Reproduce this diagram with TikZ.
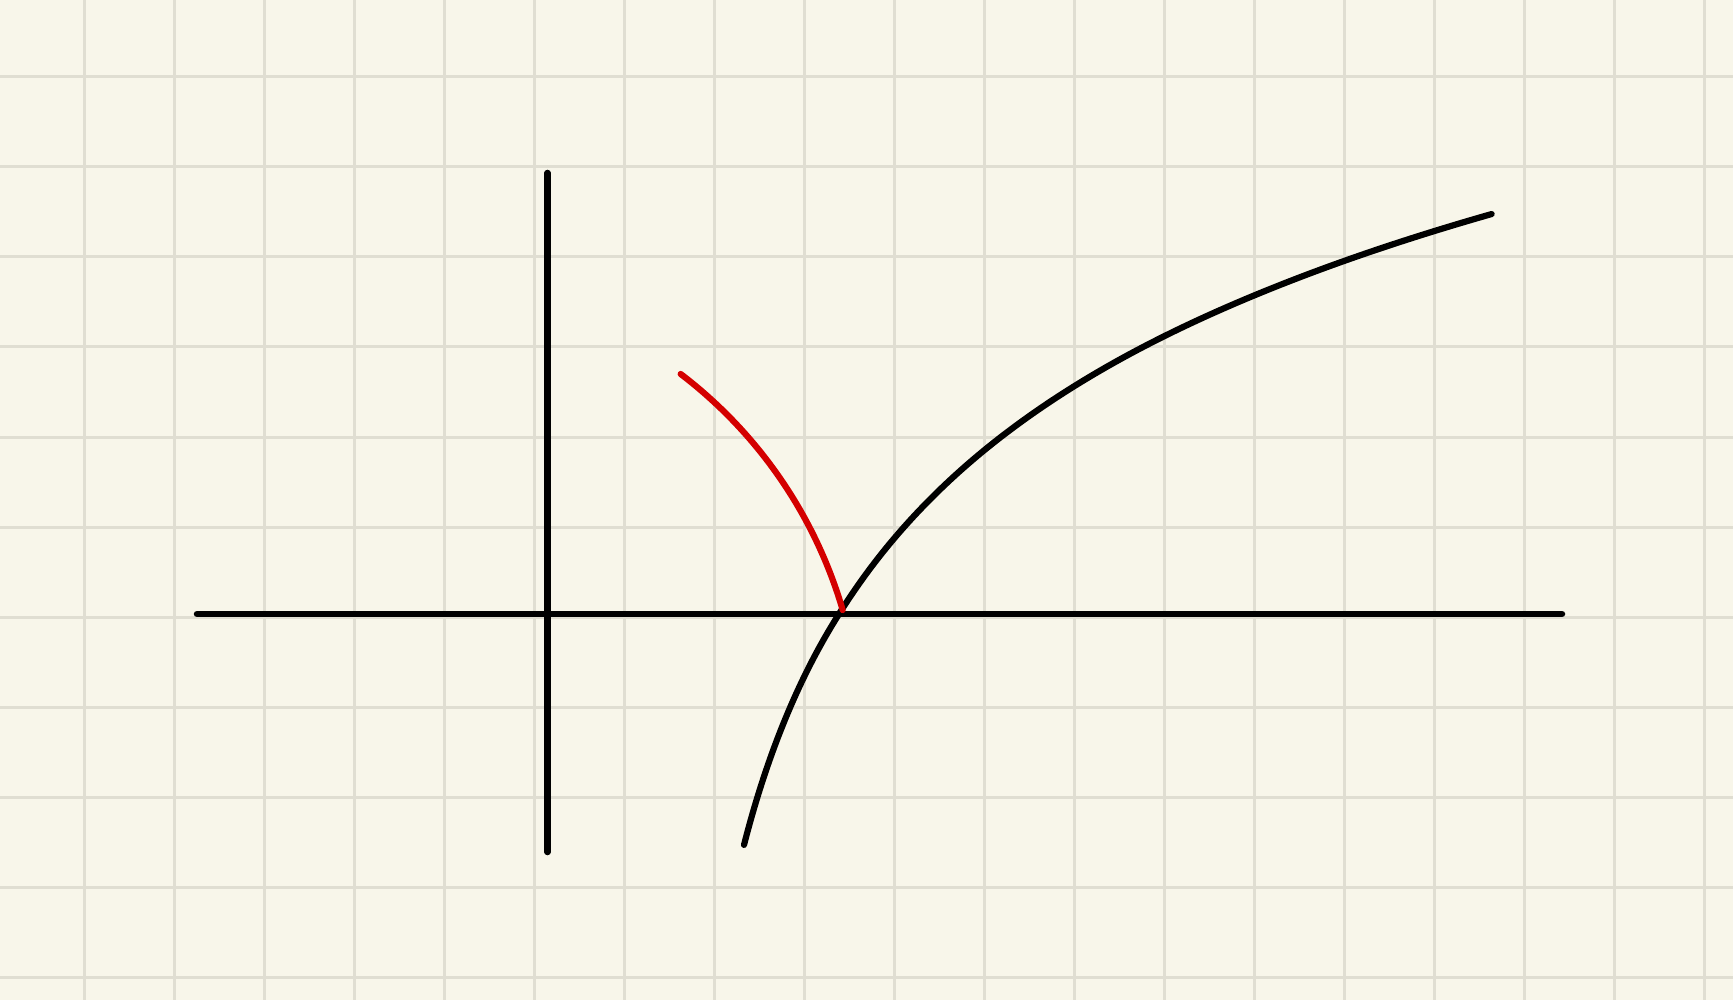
\documentclass[tikz,border=0pt]{standalone}
\definecolor{bgc}{RGB}{248,246,234}
\definecolor{gridc}{RGB}{224,222,210}
\definecolor{redc}{RGB}{212,0,0}
\begin{document}
\begin{tikzpicture}[x=1pt,y=-1pt,
  gridline/.style={draw=gridc,line width=3pt},
  axisline/.style={draw=black,line width=6.5pt,line cap=round},
  curveline/.style={line width=6.2pt,line cap=round,line join=round}]
\fill[bgc] (0,0) rectangle (1733,1000);
\useasboundingbox (0,0) rectangle (1733,1000);
\foreach \i in {0,...,18} \draw[gridline] ({84+90*\i},0) -- ({84+90*\i},1000);
\foreach \j in {0,...,10} \draw[gridline] (0,{77+90*\j}) -- (1733,{77+90*\j});
% axes
\coordinate (xl) at (197,614);
\coordinate (xr) at (1562,614);
\coordinate (yt) at (547.5,173);
\coordinate (yb) at (547.5,852);
\draw[axisline] (xl) -- (xr);
\draw[axisline] (yt) -- (yb);
% black curve: x = 667.5+171.5 e^t, y = 613.5-2753(1-e^{-t/10}), cubic Hermite pieces
\coordinate (bstart) at ({667.5+171.5*exp(-0.8073)},{-2139.5+2753*exp(0.08073)});
\draw[curveline,black] (bstart)
  \foreach \i in {1,...,8} {
    .. controls ({667.5+171.5*1.099047*exp(-0.8073+(\i-1)*0.29714)},
                 {-2139.5+2725.732*exp(-0.1*(-0.8073+(\i-1)*0.29714))})
       and      ({667.5+171.5*0.900953*exp(-0.8073+\i*0.29714)},
                 {-2139.5+2780.268*exp(-0.1*(-0.8073+\i*0.29714))})
    .. ({667.5+171.5*exp(-0.8073+\i*0.29714)},
        {-2139.5+2753*exp(-0.1*(-0.8073+\i*0.29714))})
  };
% red curve: circular arc, centre (403,738.2), radius 458
\coordinate (rstart) at ({403+458*cos(52.68)},{738.2-458*sin(52.68)});
\draw[curveline,redc] (rstart)
  \foreach \j in {1,2,3} {
    .. controls ({403+458*cos(52.68-(\j-1)*12.1433)+32.356*sin(52.68-(\j-1)*12.1433)},
                 {738.2-458*sin(52.68-(\j-1)*12.1433)+32.356*cos(52.68-(\j-1)*12.1433)})
       and      ({403+458*cos(52.68-\j*12.1433)-32.356*sin(52.68-\j*12.1433)},
                 {738.2-458*sin(52.68-\j*12.1433)-32.356*cos(52.68-\j*12.1433)})
    .. ({403+458*cos(52.68-\j*12.1433)},{738.2-458*sin(52.68-\j*12.1433)})
  };
\end{tikzpicture}
\end{document}
